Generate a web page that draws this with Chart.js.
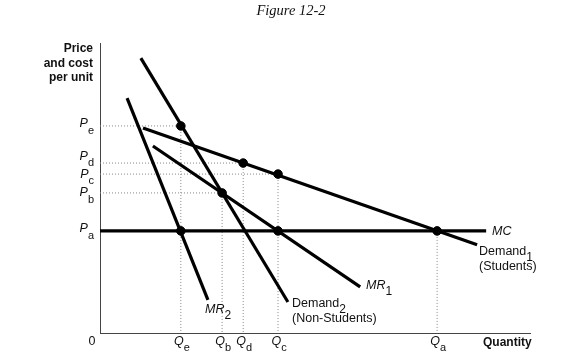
<!DOCTYPE html>
<html><head><meta charset="utf-8">
<script src="https://cdn.jsdelivr.net/npm/chart.js@4/dist/chart.umd.min.js"></script>
<style>html,body{margin:0;padding:0;background:#fff;}canvas{display:block;}</style>
</head><body>
<canvas id="c" width="569" height="363"></canvas>
<script>
// Quantity tick labels (subscripts) and values
const qLabels = ['e','b','d','c','a'];
const qValues = [18.8, 28.4, 33.3, 41.4, 78.4];
// Price tick labels (subscripts) and values
const pLabels = ['e','d','c','b','a'];
const pValues = [71.4, 58.6, 54.8, 48.3, 35.2];
// Curves (endpoints)
const demand1 = [{x:10.0,y:70.7},{x:87.7,y:30.4}];
const demand2 = [{x:9.5,y:94.8},{x:43.7,y:10.7}];
const mr1 = [{x:12.3,y:64.5},{x:60.5,y:15.9}];
const mr2 = [{x:6.3,y:81.0},{x:25.1,y:11.4}];
const mc = [{x:0,y:35.2},{x:89.8,y:35.2}];
// Marked points: [quantity label, price label]
const marks = [['e','e'],['d','d'],['c','c'],['b','b'],['e','a'],['c','a'],['a','a']];

const qOf = l => qValues[qLabels.indexOf(l)];
const pOf = l => pValues[pLabels.indexOf(l)];
const pts = marks.map(m => ({x:qOf(m[0]), y:pOf(m[1])}));

const guides = [];
[['e','e'],['d','d'],['c','c'],['b','b']].forEach(m=>{
  guides.push([{x:0,y:pOf(m[1])},{x:qOf(m[0]),y:pOf(m[1])}]);
});
[['e','e'],['b','b'],['d','d'],['c','c'],['a','a']].forEach(m=>{
  guides.push([{x:qOf(m[0]),y:pOf(m[1])},{x:qOf(m[0]),y:0}]);
});

const lineDS = d => ({data:d, showLine:true, borderColor:'#000', borderWidth:3.2, pointRadius:0, borderCapStyle:'butt'});
const datasets = [];
// points first so they are drawn on top
datasets.push({data:pts, showLine:false, pointRadius:4.3, backgroundColor:'#000', borderColor:'#000', pointBackgroundColor:'#000', pointBorderColor:'#000', pointBorderWidth:1});
[mc, demand1, demand2, mr1, mr2].forEach(d => datasets.push(lineDS(d)));
guides.forEach(g => datasets.push({data:g, showLine:true, borderColor:'#888', borderWidth:1, borderDash:[1,2], pointRadius:0}));

function subText(ctx, main, sub, x, y, align, mainFont, subFont, subDy){
  ctx.font = mainFont; const w1 = ctx.measureText(main).width;
  ctx.font = subFont; const w2 = ctx.measureText(sub).width;
  let x0 = x;
  if (align === 'right') x0 = x - w1 - w2;
  else if (align === 'center') x0 = x - (w1 + w2)/2;
  ctx.textAlign = 'left';
  ctx.font = mainFont; ctx.fillText(main, x0, y);
  ctx.font = subFont; ctx.fillText(sub, x0 + w1, y + subDy);
}

const pDy = {e:-2, d:-7, c:0, b:0, a:-2};

const textPlugin = {
  id:'texts',
  afterDraw(chart){
    const ctx = chart.ctx, xs = chart.scales.x, ys = chart.scales.y;
    ctx.save();
    ctx.fillStyle = '#111';
    ctx.textBaseline = 'middle';
    ctx.font = 'italic 14.5px "Liberation Serif"';
    ctx.textAlign = 'center';
    ctx.fillText('Figure 12-2', 291, 11);
    ctx.font = 'bold 12px "Liberation Sans"';
    ctx.textAlign = 'right';
    ['Price','and cost','per unit'].forEach((t,i)=>ctx.fillText(t, 93, 49 + i*14.5));
    pLabels.forEach((l,i)=>{
      subText(ctx, 'P', l, 94, ys.getPixelForValue(pValues[i]) + pDy[l], 'right', 'italic 12.5px "Liberation Sans"', '11px "Liberation Sans"', 7);
    });
    qLabels.forEach((l,i)=>{
      subText(ctx, 'Q', l, xs.getPixelForValue(qValues[i]) + 1, 342, 'center', 'italic 12.5px "Liberation Sans"', '11px "Liberation Sans"', 6);
    });
    ctx.font = '12.5px "Liberation Sans"'; ctx.textAlign = 'center';
    ctx.fillText('0', 92, 342);
    ctx.font = 'bold 12px "Liberation Sans"'; ctx.textAlign = 'left';
    ctx.fillText('Quantity', 483, 343);
    ctx.font = 'italic 12.5px "Liberation Sans"';
    ctx.fillText('MC', 492, 232);
    subText(ctx, 'MR', '1', 366, 286, 'left', 'italic 12.5px "Liberation Sans"', '12px "Liberation Sans"', 6);
    subText(ctx, 'MR', '2', 205, 310, 'left', 'italic 12.5px "Liberation Sans"', '12px "Liberation Sans"', 6);
    subText(ctx, 'Demand', '1', 479, 252, 'left', '12.5px "Liberation Sans"', '12px "Liberation Sans"', 6);
    ctx.font = '12.5px "Liberation Sans"';
    ctx.fillText('(Students)', 479, 267);
    subText(ctx, 'Demand', '2', 292, 304, 'left', '12.5px "Liberation Sans"', '12px "Liberation Sans"', 6);
    ctx.font = '12.5px "Liberation Sans"';
    ctx.fillText('(Non-Students)', 292, 319);
    ctx.restore();
  }
};

new Chart(document.getElementById('c'), {
  type:'scatter',
  data:{datasets},
  options:{
    responsive:false, animation:false,
    layout:{padding:{left:100, top:43, right:39, bottom:30}},
    plugins:{legend:{display:false}, tooltip:{enabled:false}, title:{display:false}},
    scales:{
      x:{type:'linear', min:0, max:100, grid:{display:false, drawTicks:false}, ticks:{display:false}, border:{display:true, color:'#444', width:1}},
      y:{type:'linear', min:0, max:100, grid:{display:false, drawTicks:false}, ticks:{display:false}, border:{display:true, color:'#444', width:1}}
    }
  },
  plugins:[textPlugin]
});
</script>
</body></html>
